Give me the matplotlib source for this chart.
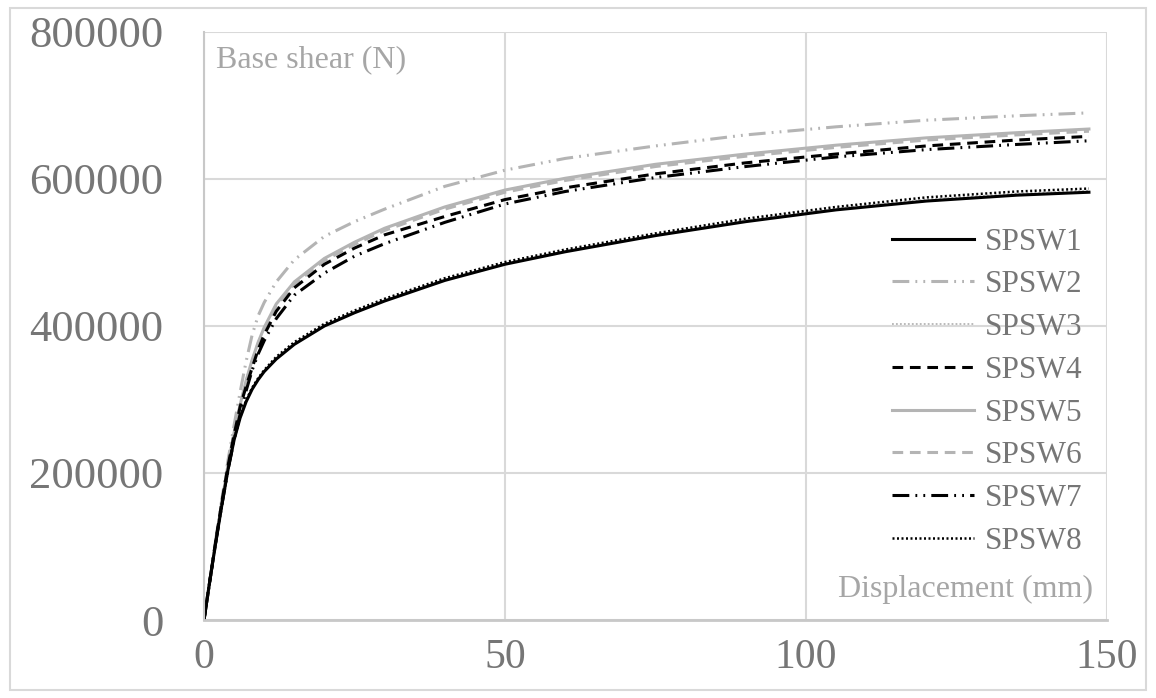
import numpy as np
import matplotlib.pyplot as plt
from matplotlib.patches import Rectangle

plt.rcParams['font.family'] = ['Liberation Serif', 'DejaVu Serif']

# displacement (mm) and base shear (kN here, x1000 below)
disp = [0, 1, 2, 3, 4, 5, 6, 7, 8, 9, 10, 12, 15, 20, 25, 30, 40, 50, 60, 75, 90, 105, 120, 135, 147]

spsw1 = [0, 55, 108, 158, 205, 245, 275, 297, 314, 327, 338, 355, 375, 400, 418, 434, 462, 484, 501, 523, 542, 558, 570, 578, 582]
spsw2 = [0, 56, 112, 166, 218, 265, 310, 352, 388, 414, 432, 460, 490, 522, 542, 559, 590, 612, 628, 645, 660, 671, 680, 686, 690]
spsw3 = [0, 55, 108, 158, 205, 246, 276, 298, 315, 328, 339, 356, 376, 401, 419, 435, 463, 485, 502, 524, 544, 560, 572, 580, 584]
spsw4 = [0, 55, 110, 162, 210, 252, 290, 318, 343, 368, 388, 420, 452, 484, 506, 524, 549, 572, 588, 607, 622, 634, 645, 653, 658]
spsw5 = [0, 55, 110, 162, 212, 255, 293, 326, 354, 378, 398, 430, 460, 492, 514, 533, 562, 585, 601, 620, 634, 646, 656, 663, 668]
spsw6 = [0, 55, 110, 162, 211, 254, 291, 324, 352, 376, 396, 428, 457, 489, 511, 530, 559, 582, 598, 617, 631, 643, 653, 660, 665]
spsw7 = [0, 55, 108, 158, 205, 245, 280, 312, 340, 362, 380, 410, 442, 472, 495, 512, 541, 566, 583, 602, 617, 630, 640, 647, 652]
spsw8 = [0, 55, 108, 158, 205, 246, 276, 299, 316, 329, 340, 358, 378, 403, 421, 437, 465, 487, 504, 526, 546, 562, 575, 583, 587]

names = ['SPSW1', 'SPSW2', 'SPSW3', 'SPSW4', 'SPSW5', 'SPSW6', 'SPSW7', 'SPSW8']
series = [spsw1, spsw2, spsw3, spsw4, spsw5, spsw6, spsw7, spsw8]

gray = '#b4b4b4'
styles = [
    dict(color='black', lw=2.2, ls='-'),
    dict(color=gray, lw=2.2, ls=(0, (5.5, 2, 0.6, 2, 0.6, 2))),
    dict(color=gray, lw=1.3, ls=(0, (1, 1.2))),
    dict(color='black', lw=2.2, ls=(0, (3.5, 2.2))),
    dict(color=gray, lw=2.2, ls='-'),
    dict(color=gray, lw=2.2, ls=(0, (3.5, 2.2))),
    dict(color='black', lw=2.2, ls=(0, (5.5, 2, 0.6, 2, 0.6, 2))),
    dict(color='black', lw=1.8, ls=(0, (0.8, 1.0))),
]

fig = plt.figure(figsize=(11.56, 6.98), dpi=100)
ax = fig.add_axes([204 / 1156, 1 - 620 / 698, 903 / 1156, 588 / 698])

# gray ones first, black ones on top
order = [5, 4, 1, 2, 3, 6, 7, 0]
lines = {}
for i in order:
    y = np.array(series[i]) * 1000
    lines[i], = ax.plot(disp, y, label=names[i], **styles[i])

ax.set_xlim(0, 150)
ax.set_ylim(0, 800000)
ax.set_xticks([0, 50, 100, 150])
ax.set_yticks([0, 200000, 400000, 600000, 800000])
ax.grid(True, color='#d9d9d9', lw=1.5)
ax.set_axisbelow(True)

for s in ['top', 'right']:
    ax.spines[s].set_visible(False)
ax.spines['left'].set_color('#c8c8c8')
ax.spines['left'].set_linewidth(1.5)
ax.spines['bottom'].set_color('#c8c8c8')
ax.spines['bottom'].set_linewidth(2)

ax.tick_params(axis='both', length=0, colors='#767676')
ax.tick_params(axis='y', labelsize=32, pad=29)
ax.tick_params(axis='x', labelsize=30, pad=13)

ax.text(0.013, 0.978, 'Base shear (N)', transform=ax.transAxes, ha='left', va='top',
        fontsize=23, color='#a6a6a6')
ax.text(0.9845, 0.039, 'Displacement (mm)', transform=ax.transAxes, ha='right', va='baseline',
        fontsize=23, color='#a6a6a6')

handles = [lines[i] for i in range(8)]
leg = ax.legend(handles, names, loc='upper right', bbox_to_anchor=(1098 / 1156, 1 - 212 / 698),
                bbox_transform=fig.transFigure, frameon=False, fontsize=22.5,
                handlelength=2.65, handletextpad=0.33, labelspacing=0.44, borderpad=0)
for t in leg.get_texts():
    t.set_color('#767676')

# light border round the whole chart
fig.patches.append(Rectangle((10 / 1156, 8 / 698), 1136 / 1156, 682 / 698, transform=fig.transFigure,
                             fill=False, edgecolor='#d9d9d9', lw=1.5))

fig.savefig('out.png', dpi=100)
